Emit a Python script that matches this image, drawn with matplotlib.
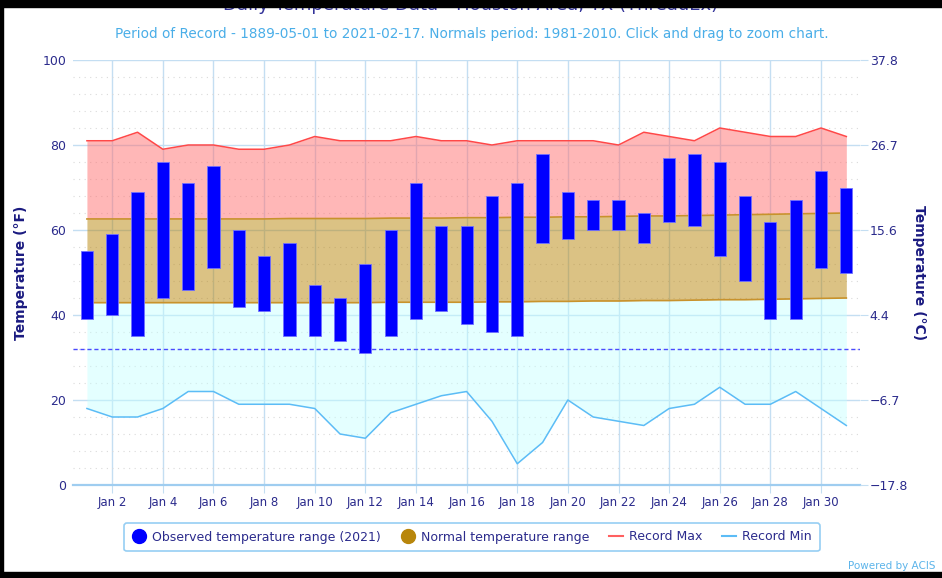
import numpy as np
import matplotlib.pyplot as plt
from matplotlib.lines import Line2D
from matplotlib.patches import Rectangle

# January 2021, Houston Area, TX (ThreadEx)
days = np.arange(1, 32)
obs_high = [55, 59, 69, 76, 71, 75, 60, 54, 57, 47, 44, 52, 60, 71, 61, 61,
            68, 71, 78, 69, 67, 67, 64, 77, 78, 76, 68, 62, 67, 74, 70]
obs_low = [39, 40, 35, 44, 46, 51, 42, 41, 35, 35, 34, 31, 35, 39, 41, 38,
           36, 35, 57, 58, 60, 60, 57, 62, 61, 54, 48, 39, 39, 51, 50]
normal_high = [62.6, 62.6, 62.6, 62.6, 62.6, 62.6, 62.6, 62.6, 62.7, 62.7, 62.7,
               62.7, 62.8, 62.8, 62.8, 62.9, 62.9, 63.0, 63.0, 63.1, 63.1, 63.2,
               63.3, 63.3, 63.4, 63.5, 63.6, 63.7, 63.8, 63.9, 64.0]
normal_low = [42.9, 42.9, 42.9, 42.9, 42.9, 42.9, 42.9, 42.9, 42.9, 42.9, 42.9,
              42.9, 43.0, 43.0, 43.0, 43.0, 43.1, 43.1, 43.2, 43.2, 43.3, 43.3,
              43.4, 43.4, 43.5, 43.6, 43.6, 43.7, 43.8, 43.9, 44.0]
record_max = [81, 81, 83, 79, 80, 80, 79, 79, 80, 82, 81, 81, 81, 82, 81, 81,
              80, 81, 81, 81, 81, 80, 83, 82, 81, 84, 83, 82, 82, 84, 82]
record_min = [18, 16, 16, 18, 22, 22, 19, 19, 19, 18, 12, 11, 17, 19, 21, 22,
              15, 5, 10, 20, 16, 15, 14, 18, 19, 23, 19, 19, 22, 18, 14]

tick_days = list(range(2, 31, 2))
tick_labels = ['Jan %d' % d for d in tick_days]
f_ticks = [0, 20, 40, 60, 80, 100]
c_labels = ['\u221217.8', '\u22126.7', '4.4', '15.6', '26.7', '37.8']

navy = '#2b2b8c'
grid_blue = '#c4def2'

fig = plt.figure(figsize=(9.42, 5.78), dpi=100)
ax = fig.add_axes([73 / 942, 1 - 485 / 578, (860 - 73) / 942, (485 - 60) / 578])

# areas
ax.fill_between(days, normal_high, record_max, color='#ff7070', alpha=0.5, lw=0, zorder=2)
ax.fill_between(days, normal_low, normal_high, color='#b8860b', alpha=0.5, lw=0, zorder=2)
ax.fill_between(days, record_min, normal_low, color='#c4ffff', alpha=0.45, lw=0, zorder=2)
ax.plot(days, normal_high, color='#c8922c', lw=1.2, zorder=3)
ax.plot(days, normal_low, color='#c8922c', lw=1.2, zorder=3)
ax.plot(days, record_max, color='#ff4848', lw=1.1, zorder=4)
ax.plot(days, record_min, color='#5cbcf6', lw=1.1, zorder=4)

# freezing line
ax.axhline(32, color='#4a4aff', lw=1, ls=(0, (3, 2)), zorder=4)

# observed bars
ax.bar(days, np.array(obs_high) - np.array(obs_low), bottom=obs_low, width=0.48,
       color='#0000ff', edgecolor='#7070ff', linewidth=0.6, zorder=5)

ax.set_xlim(0.45, 31.54)
ax.set_ylim(0, 100)
ax.set_xticks(tick_days)
ax.set_xticklabels(tick_labels)
ax.set_yticks(f_ticks)
ax.set_yticks(np.arange(0, 101, 4), minor=True)
ax.tick_params(axis='x', length=6, color=grid_blue, labelcolor=navy, labelsize=8.5, pad=2)
ax.tick_params(axis='y', which='both', length=0, labelcolor=navy, labelsize=9, pad=5)

ax.grid(axis='x', color=grid_blue, lw=1, zorder=1)
ax.grid(axis='y', which='major', color=grid_blue, lw=1, zorder=1)
ax.grid(axis='y', which='minor', color='#dadada', lw=0.8, ls=(0, (1, 4)), zorder=1)
ax.set_axisbelow(True)
for s in ax.spines.values():
    s.set_visible(False)
ax.axhline(0, color='#9fcdf0', lw=1.6, zorder=6, clip_on=False)

ax.set_ylabel('Temperature (\u00b0F)', color='#1a1a80', fontsize=10, fontweight='bold')
ax.yaxis.set_label_coords(-0.057, 0.5)

ax2 = ax.twinx()
ax2.set_ylim(0, 100)
ax2.set_yticks(f_ticks)
ax2.set_yticklabels(c_labels)
ax2.tick_params(axis='y', length=6, color=grid_blue, labelcolor=navy, labelsize=9, pad=1)
for s in ax2.spines.values():
    s.set_visible(False)
ax2.set_ylabel('Temperature (\u00b0C)', color='#1a1a80', fontsize=10, fontweight='bold',
               rotation=270, va='center')
ax2.yaxis.set_label_coords(1.075, 0.5)

# titles
fig.text(0.5, 1 - 5 / 578, 'Daily Temperature Data - Houston Area, TX (ThreadEx)',
         ha='center', va='center', color='#333399', fontsize=13)
fig.text(0.501, 1 - 34 / 578,
         'Period of Record - 1889-05-01 to 2021-02-17. Normals period: 1981-2010. '
         'Click and drag to zoom chart.',
         ha='center', va='center', color='#4aaee8', fontsize=9.8)
fig.text(935 / 942, 1 - 566 / 578, 'Powered by ACIS', ha='right', va='center',
         color='#5cb4ea', fontsize=7.5)

# legend
handles = [
    Line2D([], [], ls='none', marker='o', ms=10, color='#0000ff'),
    Line2D([], [], ls='none', marker='o', ms=10, color='#b8860b'),
    Line2D([], [], color='#ff6060', lw=1.5),
    Line2D([], [], color='#5cbcf6', lw=1.5),
]
labels = ['Observed temperature range (2021)', 'Normal temperature range',
          'Record Max', 'Record Min']
leg = fig.legend(handles, labels, loc='center', bbox_to_anchor=(472 / 942, 1 - 537 / 578),
                 ncol=4, frameon=True, fancybox=True, handlelength=1.1, handletextpad=0.5,
                 columnspacing=1.6, borderpad=0.6, prop={'size': 9})
leg.get_frame().set_edgecolor('#7cc2f0')
leg.get_frame().set_linewidth(1.2)
for t in leg.get_texts():
    t.set_color(navy)

# black screenshot borders
for x, y, w, h in [(0, 572, 942, 6), (0, 0, 3, 578), (0, 0, 942, 7)]:
    fig.patches.append(Rectangle((x / 942, 1 - (y + h) / 578), w / 942, h / 578,
                                 transform=fig.transFigure, color='black', zorder=10))

fig.savefig('out.png', dpi=100)
